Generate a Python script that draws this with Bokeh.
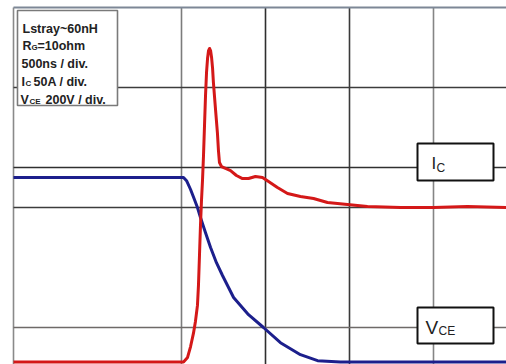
from bokeh.plotting import figure
from bokeh.models import Range1d
from bokeh.core.properties import value
from bokeh.embed import file_html
from bokeh.resources import INLINE

# ---- data ----
# time in ns (500 ns / div), Ic in A (50 A / div), Vce in V (200 V / div)
t_ic_ns = [-1000, 12, 36, 54, 71, 83, 95, 101, 107, 113, 119, 125, 131, 137, 143,
           149, 155, 161, 167, 173, 179, 185, 190, 202, 214, 220, 226, 238, 262,
           292, 327, 363, 399, 440, 482, 518, 571, 631, 708, 786, 869, 988, 1107,
           1304, 1500, 1702, 1935]
ic_a = [0, 0, 2.8, 9.6, 17.8, 25.3, 35.3, 47.8, 66.5, 85.3, 100.9, 113.4, 129.0,
        147.8, 166.5, 180.9, 189.6, 194.6, 195.9, 194.6, 190.3, 183.4, 174.6,
        158.4, 142.8, 132.1, 124.6, 122.1, 120.9, 119.6, 116.5, 114.6, 114.6,
        115.9, 115.3, 112.8, 109.0, 105.3, 103.4, 102.1, 99.6, 98.4, 97.1, 96.5,
        96.5, 97.1, 96.5]

t_vce_ns = [-1000, 12, 30, 54, 77, 95, 113, 143, 173, 208, 244, 310, 399, 488,
            589, 708, 810, 946, 1935]
vce_v = [461, 461, 453, 431, 406, 386, 361, 323, 286, 248, 216, 161, 118, 86,
         48, 18, 3, 0, 0]

# division grid
grid_t_ns = [-1000, 0, 500, 1000, 1500]
grid_t_colors = ["#8a8a8a", "#7c7c7c", "#2e2e2e", "#3a3a3a", "#858585"]
grid_div = [3, 2, 1.5, 0]
grid_div_colors = ["#3c3c3c", "#303030", "#3c3c3c", "#6e6a68"]

IC_ZERO_DIV = -0.43   # channel offsets (in divisions)
VCE_ZERO_DIV = -0.43
IC_PER_DIV = 50.0
VCE_PER_DIV = 200.0

# reference-pixel helpers for annotation placement
def X(px):
    return (px - 181) * 500.0 / 84.0

def Y(py):
    return (327 - py) / 80.0

W, H = 506, 364
y_lo, y_hi = Y(H), Y(0)
p = figure(width=W, height=H, output_backend="svg", toolbar_location=None,
           x_axis_type=None, y_axis_type=None, min_border=0,
           x_range=Range1d(X(0), X(W)), y_range=Range1d(y_lo, y_hi))
p.outline_line_color = None
p.background_fill_color = "white"
p.border_fill_color = "white"
p.extra_y_ranges = {
    "ic": Range1d((y_lo - IC_ZERO_DIV) * IC_PER_DIV, (y_hi - IC_ZERO_DIV) * IC_PER_DIV),
    "vce": Range1d((y_lo - VCE_ZERO_DIV) * VCE_PER_DIV, (y_hi - VCE_ZERO_DIV) * VCE_PER_DIV),
}

# grid
p.segment(x0=grid_t_ns, x1=grid_t_ns, y0=[Y(7)] * len(grid_t_ns), y1=[y_lo - 0.1] * len(grid_t_ns),
          line_color=grid_t_colors, line_width=1.6)
p.segment(x0=[-1000] * len(grid_div), x1=[X(520)] * len(grid_div), y0=grid_div, y1=grid_div,
          line_color=grid_div_colors, line_width=1.5)
p.segment(x0=[-1000], x1=[X(520)], y0=[Y(7)], y1=[Y(7)], line_color="#7d8796", line_width=2)

# info box (top left)
p.quad(left=[X(17)], right=[X(117)], top=[Y(10)], bottom=[Y(105)],
       fill_color="white", line_color="#7a7a7a", line_width=1.6)
fnt = value("Liberation Sans")
tc = "#222222"
def txt(x, y, s, size, style="bold"):
    p.text(x=[X(x)], y=[Y(y)], text=[s], text_font=fnt, text_font_size=value(size),
           text_font_style=style, text_color=tc, text_baseline="alphabetic", text_align="left")

txt(22, 28, "Lstray~60nH", "12.5px")
txt(22, 45, "R", "12.5px")
txt(31, 47, "G", "8px")
txt(37, 45, "=10ohm", "12.5px")
txt(21, 63, "500ns / div.", "12.5px")
txt(21, 81, "I", "12.5px")
txt(25, 83, "C", "8px")
txt(33, 81, "50A / div.", "12.5px")
txt(20, 99, "V", "12.5px")
txt(29, 101, "CE", "8px")
txt(45, 99, "200V / div.", "12.5px")

# channel label boxes
p.quad(left=[X(417), X(417)], right=[X(493), X(493)], top=[Y(143), Y(307)],
       bottom=[Y(180), Y(343)], fill_color="white", line_color="#111111", line_width=2)
txt(431, 163, "I", "17px", "normal")
txt(436, 167, "C", "12px", "normal")
txt(425, 327, "V", "19px", "normal")
txt(438, 330, "CE", "12px", "normal")

# traces
p.line(t_vce_ns, vce_v, y_range_name="vce", line_color="#1c1f8c", line_width=3,
       line_join="round")
p.line(t_ic_ns, ic_a, y_range_name="ic", line_color="#d41818", line_width=3,
       line_join="round")

open("out.html", "w").write(file_html(p, INLINE))
